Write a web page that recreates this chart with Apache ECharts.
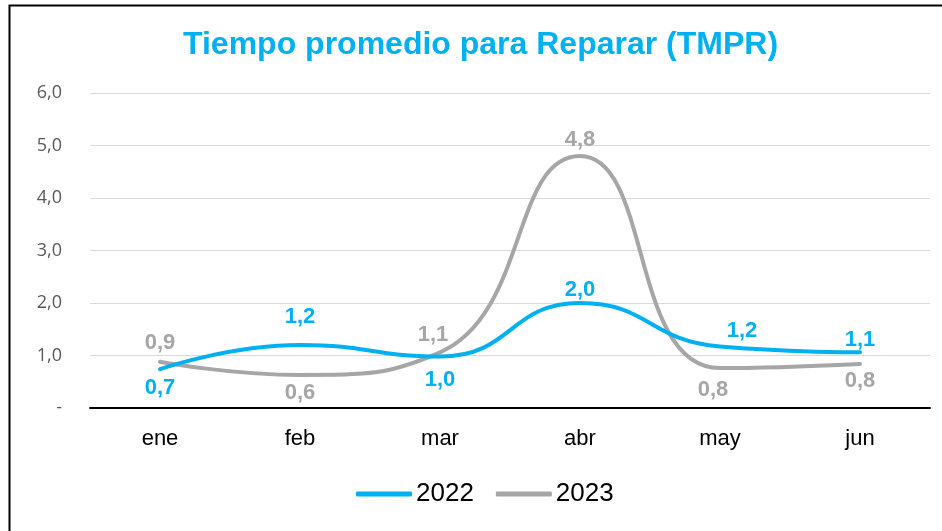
<!DOCTYPE html>
<html>
<head>
<meta charset="utf-8">
<script src="https://cdn.jsdelivr.net/npm/echarts@6/dist/echarts.min.js"></script>
<style>
html,body{margin:0;padding:0;background:#fff;}
#c{width:942px;height:531px;}
</style>
</head>
<body>
<div id="c"></div>
<script>
var categories = ['ene','feb','mar','abr','may','jun'];
var values2022 = [0.74, 1.2, 0.98, 2.0, 1.17, 1.06];
var values2023 = [0.88, 0.63, 1.06, 4.8, 0.76, 0.84];
var yTicks = ['-', '1,0', '2,0', '3,0', '4,0', '5,0', '6,0'];

var pos2022 = [
  {position:'bottom', offset:[0,2]},
  {position:'top', offset:[0,-12]},
  {position:'bottom', offset:[0,7]},
  {position:'top', offset:[0,3]},
  {position:'top', offset:[22,1]},
  {position:'top', offset:[0,4]}
];
var pos2023 = [
  {position:'top', offset:[0,-2]},
  {position:'bottom', offset:[0,2]},
  {position:'top', offset:[-7,-1]},
  {position:'top', offset:[0,0]},
  {position:'bottom', offset:[-7,5]},
  {position:'bottom', offset:[0,1]}
];

function fmt(v){ return v.toFixed(1).replace('.', ','); }

function buildData(vals, pos){
  return vals.map(function(v,i){
    return {value: v, label: {position: pos[i].position, offset: pos[i].offset}};
  });
}

var chart = echarts.init(document.getElementById('c'));
chart.setOption({
  backgroundColor: '#fff',
  animation: false,
  title: {
    text: 'Tiempo promedio para Reparar (TMPR)',
    left: 183,
    top: 29,
    padding: 0,
    textStyle: {fontFamily: 'Liberation Sans, Arial', fontSize: 32, fontWeight: 'bold', color: '#00B0F0'}
  },
  grid: {left: 90, right: 12, top: 93, bottom: 123},
  legend: {
    bottom: 19,
    left: 351,
    itemWidth: 56,
    itemHeight: 5,
    itemGap: 22,
    icon: 'roundRect',
    textStyle: {fontFamily: 'Liberation Sans, Arial', fontSize: 26, color: '#000', padding: [0,0,0,-1]},
    data: [
      {name: '2022', itemStyle: {color: '#00B0F0', opacity: 1}},
      {name: '2023', itemStyle: {color: '#A6A6A6', opacity: 1}}
    ]
  },
  xAxis: {
    type: 'category',
    data: categories,
    boundaryGap: true,
    axisLine: {lineStyle: {color: '#000', width: 2}},
    axisTick: {show: false},
    axisLabel: {fontFamily: 'Liberation Sans, Arial', fontSize: 22, color: '#000', margin: 20}
  },
  yAxis: {
    type: 'value',
    min: 0, max: 6, interval: 1,
    axisLine: {show: false},
    axisTick: {show: false},
    splitLine: {lineStyle: {color: '#D9D9D9', width: 1}},
    axisLabel: {
      fontFamily: 'Open Sans, Noto Sans, sans-serif', fontSize: 18, color: '#595959', margin: 28,
      formatter: function(v){ return yTicks[Math.round(v)]; }
    }
  },
  series: [
    {
      name: '2022', type: 'line', smooth: 0.5,
      data: buildData(values2022, pos2022),
      symbol: 'circle', symbolSize: 1, showSymbol: true,
      lineStyle: {color: '#00B0F0', width: 4, cap: 'round'},
      itemStyle: {color: '#00B0F0', opacity: 0},
      label: {show: true, formatter: function(p){ return fmt(p.value); },
        fontFamily: 'Liberation Sans, Arial', fontSize: 22, fontWeight: 'bold', color: '#00B0F0', opacity: 1},
      emphasis: {disabled: true},
      z: 3
    },
    {
      name: '2023', type: 'line', smooth: 0.5,
      data: buildData(values2023, pos2023),
      symbol: 'circle', symbolSize: 1, showSymbol: true,
      lineStyle: {color: '#A6A6A6', width: 4, cap: 'round'},
      itemStyle: {color: '#A6A6A6', opacity: 0},
      label: {show: true, formatter: function(p){ return fmt(p.value); },
        fontFamily: 'Liberation Sans, Arial', fontSize: 22, fontWeight: 'bold', color: '#A6A6A6', opacity: 1},
      emphasis: {disabled: true},
      z: 2
    }
  ],
  graphic: [{
    type: 'rect', left: 7, top: 3, silent: true,
    shape: {x: 0, y: 0, width: 1200, height: 1200},
    style: {fill: 'none', stroke: '#000', lineWidth: 2}
  }]
});
</script>
</body>
</html>
